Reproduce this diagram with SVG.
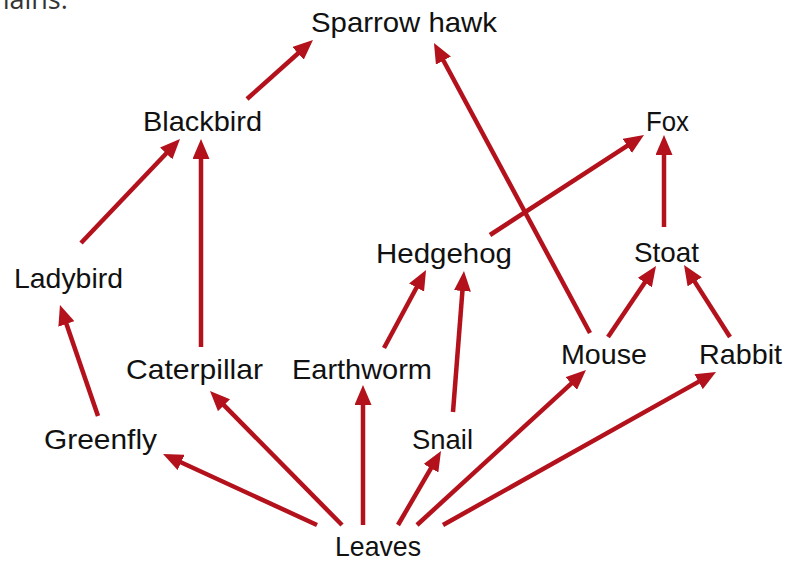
<svg xmlns="http://www.w3.org/2000/svg" width="787" height="562" viewBox="0 0 787 562">
<style>
.lbl{font-family:"Liberation Sans","DejaVu Sans",sans-serif;font-size:28px;fill:#111;}
.cap{font-family:"Open Sans","Liberation Sans",sans-serif;font-size:27px;fill:#333;}
.edge{stroke:#b3111b;stroke-width:4.5;fill:none;marker-end:url(#ah);}
</style>
<defs>
<marker id="ah" markerUnits="userSpaceOnUse" markerWidth="20" markerHeight="17" refX="10" refY="8.5" orient="auto">
<path d="M0,0 L20,8.5 L0,17 z" fill="#b3111b"/>
</marker>
</defs>
<rect width="787" height="562" fill="#fff"/>
<text class="cap" x="-20" y="9">chains.</text>
<g id="connectors">
<line class="edge" x1="247" y1="99" x2="305.5" y2="46.7"/>
<line class="edge" x1="590" y1="333" x2="438.7" y2="51.8"/>
<line class="edge" x1="81" y1="243" x2="173.1" y2="146.2"/>
<line class="edge" x1="201" y1="347" x2="201" y2="149"/>
<line class="edge" x1="490" y1="235" x2="635.6" y2="140.4"/>
<line class="edge" x1="664" y1="227" x2="664" y2="145"/>
<line class="edge" x1="98" y1="416" x2="63.2" y2="314.5"/>
<line class="edge" x1="384" y1="348" x2="421.3" y2="278.8"/>
<line class="edge" x1="453" y1="412" x2="463.2" y2="281"/>
<line class="edge" x1="608" y1="337" x2="650.4" y2="274.3"/>
<line class="edge" x1="730" y1="337" x2="689.4" y2="273.4"/>
<line class="edge" x1="317" y1="525" x2="172.1" y2="458.2"/>
<line class="edge" x1="342" y1="525" x2="217" y2="398.1"/>
<line class="edge" x1="363" y1="525" x2="363" y2="395"/>
<line class="edge" x1="398" y1="525" x2="436" y2="459.6"/>
<line class="edge" x1="417" y1="525" x2="578.6" y2="376.8"/>
<line class="edge" x1="443" y1="525" x2="707.3" y2="376.9"/>
</g>
<g id="sparrowhawk"><text class="lbl" x="311" y="32" textLength="186" lengthAdjust="spacingAndGlyphs">Sparrow hawk</text></g>
<g id="blackbird"><text class="lbl" x="143" y="131" textLength="119" lengthAdjust="spacingAndGlyphs">Blackbird</text></g>
<g id="fox"><text class="lbl" x="646" y="131" textLength="43" lengthAdjust="spacingAndGlyphs">Fox</text></g>
<g id="ladybird"><text class="lbl" x="14" y="288" textLength="109" lengthAdjust="spacingAndGlyphs">Ladybird</text></g>
<g id="hedgehog"><text class="lbl" x="376" y="263" textLength="136" lengthAdjust="spacingAndGlyphs">Hedgehog</text></g>
<g id="stoat"><text class="lbl" x="634" y="262" textLength="65" lengthAdjust="spacingAndGlyphs">Stoat</text></g>
<g id="caterpillar"><text class="lbl" x="126" y="379" textLength="137" lengthAdjust="spacingAndGlyphs">Caterpillar</text></g>
<g id="earthworm"><text class="lbl" x="292" y="379" textLength="140" lengthAdjust="spacingAndGlyphs">Earthworm</text></g>
<g id="mouse"><text class="lbl" x="561" y="364" textLength="86" lengthAdjust="spacingAndGlyphs">Mouse</text></g>
<g id="rabbit"><text class="lbl" x="699" y="364" textLength="83" lengthAdjust="spacingAndGlyphs">Rabbit</text></g>
<g id="greenfly"><text class="lbl" x="44" y="449" textLength="113" lengthAdjust="spacingAndGlyphs">Greenfly</text></g>
<g id="snail"><text class="lbl" x="412" y="449" textLength="61" lengthAdjust="spacingAndGlyphs">Snail</text></g>
<g id="leaves"><text class="lbl" x="335" y="556" textLength="86" lengthAdjust="spacingAndGlyphs">Leaves</text></g>
</svg>
